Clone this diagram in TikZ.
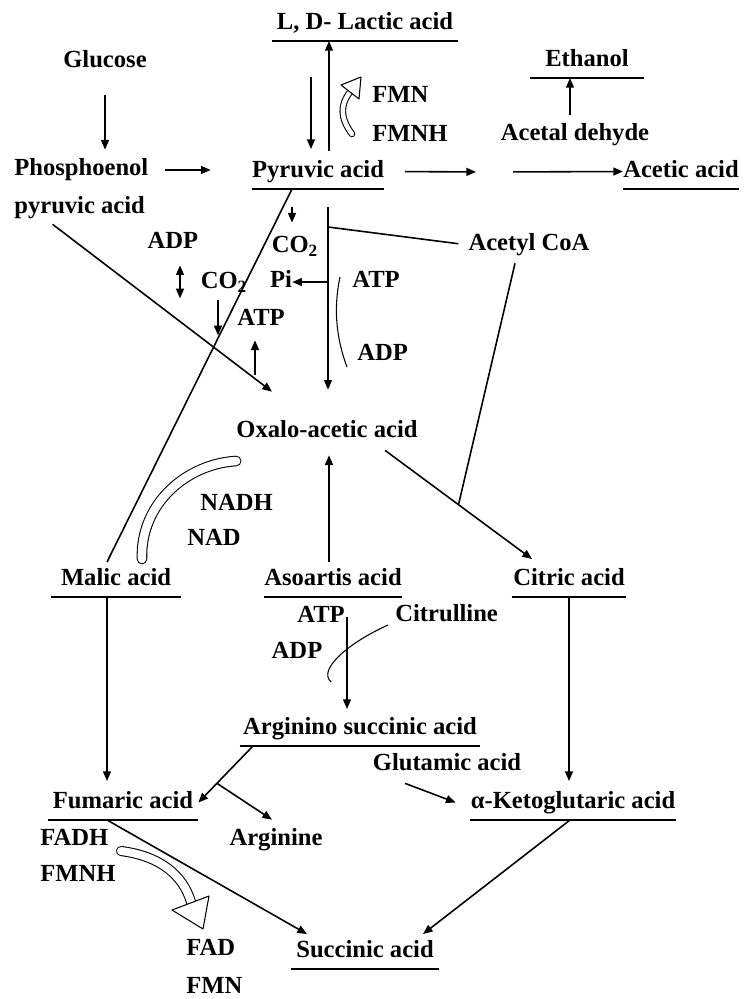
\documentclass[tikz,border=0pt]{standalone}
\usepackage{fontspec}
\setmainfont{Liberation Serif}
\usetikzlibrary{arrows.meta}

\begin{document}
\begin{tikzpicture}[x=0.2mm,y=-0.2mm,
  font=\fontsize{14}{16}\selectfont\bfseries,
  lbl/.style={inner sep=0pt,text height=9.5pt,text depth=3pt},
  acid/.style={lbl,anchor=south,inner ysep=3.5pt,minimum width=#1*0.2mm},
  link/.style={line width=0.9pt},
  arr/.style={link,-{Triangle[length=5.5pt,width=4.5pt]}},
  thinlink/.style={line width=0.6pt},
  band/.style={double,double distance=#1,line width=0.6pt,line cap=round},
  head/.style={line width=0.6pt,fill=white,line join=round}]
\useasboundingbox (0,0) rectangle (745,999);
% underlined compounds
\node[acid=185] (lactic) at (365,41) {L, D- Lactic acid};
\node[acid=131] (pyruvic) at (318,189) {Pyruvic acid};
\node[acid=113] (ethanol) at (587,78) {Ethanol};
\node[acid=112] (acetic) at (681,189) {Acetic acid};
\node[acid=130] (malic) at (116,597) {Malic acid};
\node[acid=131] (asoartis) at (333,597) {Asoartis acid};
\node[acid=114] (citric) at (569,597) {Citric acid};
\node[acid=240] (arginino) at (360,746) {Arginino succinic acid};
\node[acid=150] (fumaric) at (123,820) {Fumaric acid};
\node[acid=205] (keto) at (573,820) {α-Ketoglutaric acid};
\node[acid=148] (succinic) at (365,969) {Succinic acid};
\foreach \n in {lactic,pyruvic,ethanol,acetic,malic,asoartis,citric,arginino,fumaric,keto,succinic}
  \draw[line width=1pt] (\n.south west) -- (\n.south east);
% plain labels
\node[lbl] (glucose) at (105,62) {Glucose};
\node[lbl,anchor=west] (phos) at (14,170) {Phosphoenol};
\node[lbl,anchor=west] (phos2) at (14,208) {pyruvic acid};
\node[lbl,anchor=west] (fmn) at (372,97) {FMN};
\node[lbl,anchor=west] (fmnh) at (372,136) {FMNH};
\node[lbl] (acetal) at (575,135) {Acetal dehyde};
\node[lbl] (acetyl) at (529,245) {Acetyl CoA};
\node[lbl] (co2a) at (295,247) {CO\textsubscript{2}};
\node[lbl] (pi) at (281,282) {Pi};
\node[lbl,anchor=west] (atpR) at (352,282) {ATP};
\node[lbl,anchor=west] (adpR) at (357,355) {ADP};
\node[lbl] (adpL) at (173,243) {ADP};
\node[lbl] (co2b) at (224,283) {CO\textsubscript{2}};
\node[lbl] (atpL) at (261,320) {ATP};
\node[lbl] (oxalo) at (327,432) {Oxalo-acetic acid};
\node[lbl,anchor=west] (nadh) at (200,505) {NADH};
\node[lbl,anchor=west] (nad) at (187,540) {NAD};
\node[lbl] (atp2) at (321,617) {ATP};
\node[lbl] (adp2) at (297,653) {ADP};
\node[lbl,anchor=west] (citrulline) at (395,616) {Citrulline};
\node[lbl] (glutamic) at (447,765) {Glutamic acid};
\node[lbl] (arginine) at (276,840) {Arginine};
\node[lbl,anchor=west] (fadh) at (40,840) {FADH};
\node[lbl,anchor=west] (fmnh2) at (40,876) {FMNH};
\node[lbl,anchor=west] (fad) at (186,950) {FAD};
\node[lbl,anchor=west] (fmn2) at (186,988) {FMN};
% glycolysis and pyruvic acid
\draw[arr,shorten <=4.4mm,shorten >=1.8mm] (glucose.south) -- (glucose.south |- phos.north);
\draw[arr,shorten <=3.2mm,shorten >=8.2mm] (phos.east) -- (phos.east -| pyruvic.west);
\draw[arr,shorten <=0.6mm] ([xshift=2.2mm]pyruvic.north) -- ([xshift=2.2mm]pyruvic.north |- lactic.south);
\draw[arr,shorten <=7.2mm,shorten >=1mm] ([xshift=-1.4mm]pyruvic.north |- lactic.south) -- ([xshift=-1.4mm]pyruvic.north);
\draw[band=0.9mm] (352,134) .. controls (340,118) and (340,105) .. (350,92);
\draw[head] (341,85) -- (361,77) -- (359,99) -- cycle;
\draw[arr,shorten <=1.8mm] ([xshift=-1mm]acetal.north) -- ([xshift=-1mm]acetal.north |- ethanol.south);
\coordinate (fork) at (495,172);
\draw[arr,shorten <=4.1mm,shorten >=3.8mm] (pyruvic.east) -- (fork);
\draw[arr,shorten <=3.6mm] (fork) -- (acetic.west);
% towards oxalo-acetic acid
\draw[link] ([xshift=-5.2mm]pyruvic.south) -- ([xshift=-1.8mm]malic.north);
\draw[arr,shorten <=3.6mm,shorten >=2.6mm] ([xshift=-5.2mm]pyruvic.south) -- ([xshift=-5.2mm]pyruvic.south |- co2a.north);
\draw[arr,shorten <=3.6mm,shorten >=6.2mm] ([xshift=2mm]pyruvic.south) -- ([xshift=2mm]pyruvic.south |- oxalo.north);
\coordinate (jv) at ([xshift=2mm,yshift=-7.6mm]pyruvic.south);
\draw[link,shorten >=2mm] (jv) -- (acetyl.west);
\draw[arr] (jv |- pi.east) -- (pi.east);
\draw[thinlink] ([xshift=-2.4mm,yshift=1mm]atpR.west) .. controls +(-6,28) and +(-12,-32) .. ([xshift=-2mm,yshift=-2.4mm]adpR.west);
\draw[link,{Triangle[length=5.5pt,width=4.5pt]}-{Triangle[length=5.5pt,width=4.5pt]},shorten <=2.2mm,shorten >=-0.8mm]
  ([xshift=1.4mm]adpL.south) -- ([xshift=1.4mm]adpL.south |- co2b.south);
\draw[arr,shorten <=1.2mm,shorten >=-0.8mm] ([xshift=-1.2mm]co2b.south) -- ([xshift=-1.2mm]co2b.south |- atpL.south);
\draw[arr,shorten <=9.2mm,shorten >=1.8mm] ([xshift=-1.2mm]atpL.south |- oxalo.north) -- ([xshift=-1.2mm]atpL.south);
\draw[arr] ([xshift=-5.4mm,yshift=-1mm]phos2.south) -- ([xshift=-11mm,yshift=5.8mm]oxalo.north);
% cycle
\draw[band=1.7mm] ([xshift=5.2mm,yshift=0.6mm]malic.north) .. controls +(-2,-55) and +(-50,3) .. ([yshift=-5.8mm]oxalo.west);
\draw[arr] ([xshift=11.6mm,yshift=-1.4mm]oxalo.south) -- coordinate[pos=0.5] (cj) ([xshift=-7.4mm,yshift=0.6mm]citric.north);
\draw[link] ([xshift=-2.8mm,yshift=-1.4mm]acetyl.south) -- (cj);
\draw[arr,shorten >=2.4mm] ([xshift=-0.8mm]asoartis.north) -- ([xshift=-0.8mm]asoartis.north |- oxalo.south);
\draw[arr,shorten >=0.8mm] ([xshift=-1.8mm]malic.south) -- ([xshift=-1.8mm]malic.south |- fumaric.north);
\draw[arr,shorten >=0.8mm] (citric.south) -- (citric.south |- keto.north);
\draw[arr,shorten <=4mm,shorten >=0.4mm] ([xshift=2.8mm]asoartis.south) -- ([xshift=2.8mm]asoartis.south |- arginino.north);
\draw[thinlink] ([xshift=-1.4mm,yshift=-1.8mm]citrulline.west) .. controls +(-40,18) and +(-14,-12) .. ([xshift=1.7mm,yshift=-5.8mm]adp2.east);
\draw[arr] ([xshift=-21.4mm]arginino.south) -- coordinate[pos=0.66] (ab) (fumaric.east);
\draw[arr] (ab) -- ([xshift=-0.8mm,yshift=1.8mm]arginine.north);
\draw[arr] ([xshift=-8.4mm,yshift=-1.4mm]glutamic.south) -- ([xshift=-2.9mm]keto.west);
\draw[arr] ([xshift=-0.6mm]keto.south) -- ([xshift=11.6mm]succinic.north);
\draw[arr] ([xshift=-3.2mm]fumaric.south) -- ([xshift=-11.6mm]succinic.north);
\draw[band=1.6mm] (121,851) .. controls (160,856) and (183,875) .. (191,902);
\draw[head] (172,910) -- (209,896) -- (203,929) -- cycle;
\end{tikzpicture}
\end{document}
